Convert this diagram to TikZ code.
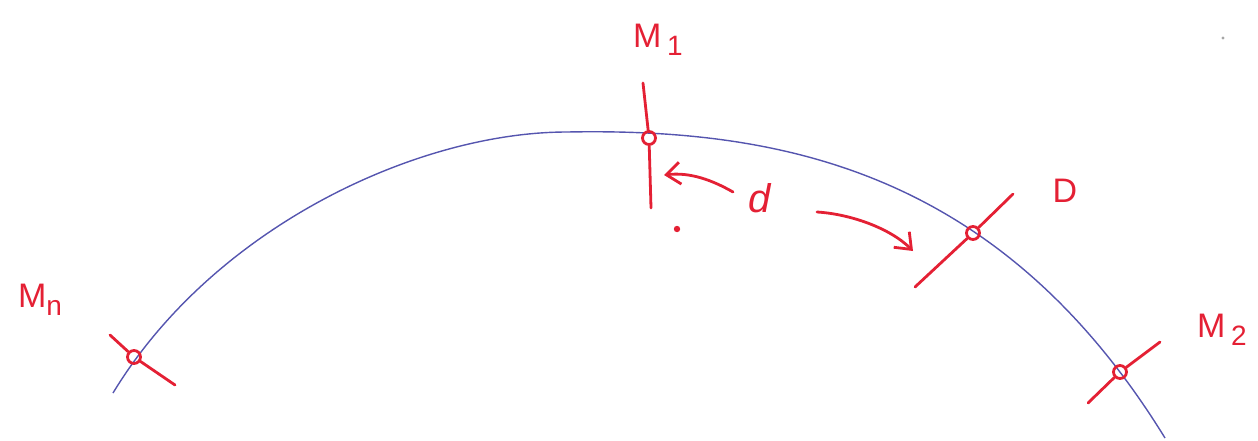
\documentclass[tikz,border=0pt]{standalone}
\usepackage{fontspec}
\setmainfont{Liberation Sans}
\usetikzlibrary{arrows.meta}
\definecolor{ink}{RGB}{228,32,52}
\definecolor{curve}{RGB}{85,85,175}
\newcommand{\lowsub}[1]{\raisebox{-0.45ex}{\fontsize{14}{14}\selectfont #1}}
\tikzset{
  redline/.style={draw=ink, line width=1.4pt, line cap=round},
  pt/.style={circle, draw=ink, line width=1.4pt, minimum size=6.5pt, inner sep=0pt},
  lbl/.style={text=ink, font=\fontsize{17}{19}\selectfont, inner sep=0pt},
  arc/.style={draw=curve, line width=0.7pt},
  opentip/.style={-{Straight Barb[length=7pt,width=11pt,line width=1.4pt]}}
}
\begin{document}
\begin{tikzpicture}[x=0.5pt,y=-0.5pt]
\useasboundingbox (0,0) rectangle (1258,440);
% blue curve
\coordinate (c0) at (113,393);
\coordinate (ctop) at (567,132);
\coordinate (c1) at (1165,438);
\draw[arc] (c0) .. controls (215,225) and (420,132) .. (ctop)
               .. controls (780,128) and (1000,170) .. (c1);
% points
\node[pt] (m1) at (649,138) {};
\node[pt] (dd) at (973,233) {};
\node[pt] (mn) at (134,357) {};
\node[pt] (m2) at (1120,372) {};
% ticks
\coordinate (m1a) at (643,83);
\coordinate (m1b) at (651,208);
\coordinate (da) at (1013,194);
\coordinate (db) at (915,287);
\coordinate (mna) at (110,335);
\coordinate (mnb) at (175,385);
\coordinate (m2a) at (1160,342);
\coordinate (m2b) at (1088,403);
\draw[redline] (m1a) -- (m1) -- (m1b);
\draw[redline] (da) -- (dd) -- (db);
\draw[redline] (mna) -- (mn) -- (mnb);
\draw[redline] (m2a) -- (m2) -- (m2b);
% labels
\node[lbl] (lm1) at (658,40) {M\,\lowsub{1}};
\node[lbl] (ld) at (1065,191) {D};
\node[lbl] (lmn) at (40,300) {M\lowsub{n}};
\node[lbl] (lm2) at (1222,330) {M\,\lowsub{2}};
\node[lbl, font=\fontsize{20}{22}\selectfont\itshape] (dl) at (760,198) {d};
% arrows
\coordinate (a1s) at (733,192);
\coordinate (a1e) at (664,175);
\coordinate (a2s) at (817,212);
\coordinate (a2e) at (913,251);
\draw[redline, opentip] (a1s) .. controls (712,180) and (690,172) .. (a1e);
\draw[redline, opentip] (a2s) .. controls (850,214) and (890,228) .. (a2e);
% small dots
\fill[ink] (677,229) circle (1.6pt);
\fill[gray!70] (1223,38) circle (0.8pt);
\end{tikzpicture}
\end{document}
